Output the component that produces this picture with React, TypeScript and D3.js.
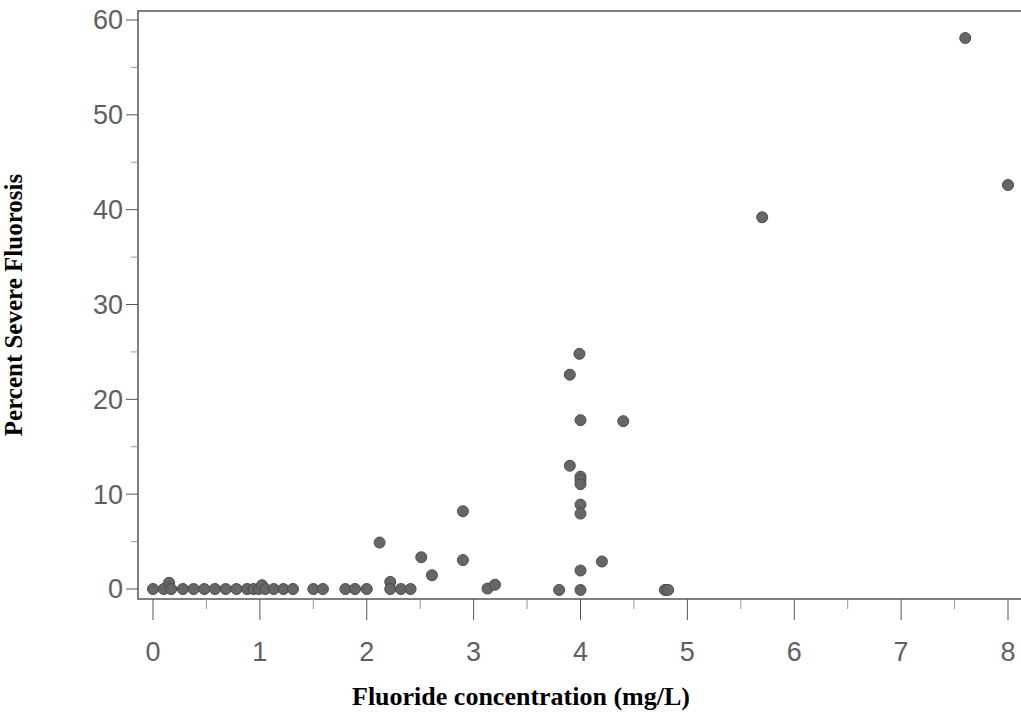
import React from "react";
import * as d3 from "d3";

const fluorideX: number[] = [
  0, 0.1, 0.15, 0.17, 0.28, 0.38, 0.48, 0.58, 0.68, 0.78, 0.88, 0.94, 0.99, 1.02, 1.05, 1.13, 1.22, 1.31,
  1.5, 1.59, 1.8, 1.89, 2.0, 2.12, 2.22, 2.22, 2.32, 2.41, 2.51, 2.61, 2.9, 2.9, 3.13, 3.2,
  3.8, 3.9, 3.9, 3.99, 4.0, 4.0, 4.0, 4.0, 4.0, 4.0, 4.0, 4.0, 4.2, 4.4, 4.79, 4.82,
  5.7, 7.6, 8.0,
];
const severePct: number[] = [
  0, 0, 0.65, 0, 0, 0, 0, 0, 0, 0, 0, 0, 0, 0.4, 0, 0, 0, 0,
  0, 0, 0, 0, 0, 4.9, 0.75, 0, 0, 0, 3.35, 1.45, 8.2, 3.05, 0.05, 0.45,
  -0.1, 13.0, 22.6, 24.8, 17.8, 11.85, 11.5, 11.05, 8.9, 7.95, 1.95, -0.1, 2.9, 17.7, -0.1, -0.1,
  39.2, 58.1, 42.6,
];
const xTicks: number[] = [0, 1, 2, 3, 4, 5, 6, 7, 8];
const xMinor: number[] = [0.5, 1.5, 2.5, 3.5, 4.5, 5.5, 6.5, 7.5];
const yTicks: number[] = [0, 10, 20, 30, 40, 50, 60];
const yMinor: number[] = [5, 15, 25, 35, 45, 55];

const W = 1021;
const H = 717;

export default function App() {
  const frameL = 138, frameT = 11, frameB = 599, frameR = 1030;
  const x = d3.scaleLinear().domain([0, 8]).range([153, 1008]);
  const y = d3.scaleLinear().domain([0, 60]).range([589, 20]);
  const axisColor = "#555";
  const labelColor = "#5f5f5f";
  const pts = fluorideX.map((v, i) => ({ x: v, y: severePct[i] }));
  return (
    <svg width={W} height={H} style={{ position: "absolute", left: 0, top: 0, background: "#fff" }}>
      <rect x={0} y={0} width={W} height={H} fill="#fff" />
      <path d={`M${frameR},${frameT}H${frameL}V${frameB}H${frameR}`} fill="none" stroke={axisColor} strokeWidth={1.5} />
      {yTicks.map((t) => (
        <g key={"y" + t}>
          <line x1={126} x2={frameL} y1={y(t)} y2={y(t)} stroke={axisColor} strokeWidth={1} />
          <text x={123} y={y(t)} dy="0.35em" textAnchor="end" fontFamily="Liberation Sans, Arial, sans-serif" fontSize={27} fill={labelColor}>
            {t}
          </text>
        </g>
      ))}
      {yMinor.map((t) => (
        <line key={"ym" + t} x1={131} x2={frameL} y1={y(t)} y2={y(t)} stroke="#999" strokeWidth={1} />
      ))}
      {xTicks.map((t) => (
        <g key={"x" + t}>
          <line x1={x(t)} x2={x(t)} y1={frameB} y2={620} stroke={axisColor} strokeWidth={1} />
          <text x={x(t)} y={661} textAnchor="middle" fontFamily="Liberation Sans, Arial, sans-serif" fontSize={27} fill={labelColor}>
            {t}
          </text>
        </g>
      ))}
      {xMinor.map((t) => (
        <line key={"xm" + t} x1={x(t)} x2={x(t)} y1={frameB} y2={609} stroke="#999" strokeWidth={1} />
      ))}
      {pts.map((p, i) => (
        <circle key={i} cx={x(p.x)} cy={y(p.y)} r={5.5} fill="#666" stroke="#4a4a4a" strokeWidth={1} />
      ))}
      <text x={521} y={705} textAnchor="middle" fontFamily="Liberation Serif, 'Times New Roman', serif" fontWeight="bold" fontSize={26} fill="#000">
        Fluoride concentration (mg/L)
      </text>
      <text transform={`translate(22,305) rotate(-90)`} textAnchor="middle" fontFamily="Liberation Serif, 'Times New Roman', serif" fontWeight="bold" fontSize={25} fill="#000">
        Percent Severe Fluorosis
      </text>
    </svg>
  );
}
